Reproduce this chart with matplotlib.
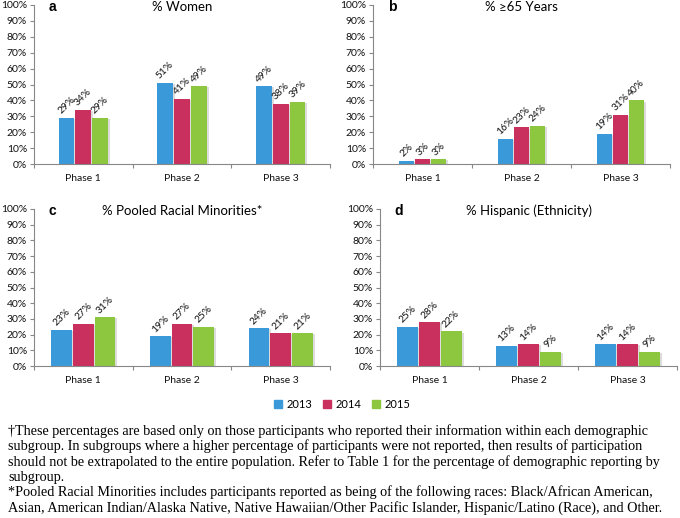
"""
Demographic participation by phase, 2013-2015 (four panels + footnote).
"""
import matplotlib
matplotlib.use("Agg")
import matplotlib.pyplot as plt
import matplotlib.patheffects as pe
import numpy as np
from matplotlib.patches import Patch
from matplotlib.ticker import PercentFormatter

plt.rcParams["font.family"] = ["Lato", "DejaVu Sans"]

phases = ["Phase 1", "Phase 2", "Phase 3"]
years = ["2013", "2014", "2015"]
colors = ["#3A9AD9", "#C9305E", "#8DC63F"]

women = [[29, 51, 49], [34, 41, 38], [29, 49, 39]]          # rows = years
age65 = [[2, 16, 19], [3, 23, 31], [3, 24, 40]]
minorities = [[23, 19, 24], [27, 27, 21], [31, 25, 21]]
hispanic = [[25, 13, 14], [28, 14, 14], [22, 9, 9]]

panels = [
    ("a", "% Women", women, [34, 5, 330, 164], 0.16),
    ("b", "% \u226565 Years", age65, [373, 5, 670, 164], 0.15),
    ("c", "% Pooled Racial Minorities*", minorities, [34, 209, 330, 366], 0.21),
    ("d", "% Hispanic (Ethnicity)", hispanic, [380, 209, 677, 366], 0.21),
]

footnote = [
    "\u2020These percentages are based only on those participants who reported their information within each demographic",
    "subgroup. In subgroups where a higher percentage of participants were not reported, then results of participation",
    "should not be extrapolated to the entire population. Refer to Table 1 for the percentage of demographic reporting by",
    "subgroup.",
    "*Pooled Racial Minorities includes participants reported as being of the following races: Black/African American,",
    "Asian, American Indian/Alaska Native, Native Hawaiian/Other Pacific Islander, Hispanic/Latino (Race), and Other.",
]

W, H = 680, 518
fig = plt.figure(figsize=(W / 100, H / 100), dpi=100)

shadow = [pe.SimplePatchShadow(offset=(1.5, -0.8), shadow_rgbFace="#bbbbbb", alpha=0.5), pe.Normal()]
x = np.arange(len(phases))

for letter, title, data, (x0, y0, x1, y1), width in panels:
    ax = fig.add_axes([x0 / W, 1 - y1 / H, (x1 - x0) / W, (y1 - y0) / H])
    for i, vals in enumerate(data):
        pos = x + (i - 1) * (width + 0.01)
        bars = ax.bar(pos, vals, width, color=colors[i], path_effects=shadow, zorder=2)
        for b, v in zip(bars, vals):
            ax.annotate(f"{v}%", (b.get_x() + b.get_width() / 2, v), xytext=(0, 1.5),
                        textcoords="offset points", ha="center", va="bottom",
                        rotation=45, fontsize=7.3, color="#111111")
    ax.set_xlim(-0.5, 2.5)
    ax.set_ylim(0, 100)
    ax.set_yticks(range(0, 101, 10))
    ax.yaxis.set_major_formatter(PercentFormatter(decimals=0))
    ax.set_xticks([-0.5, 0.5, 1.5, 2.5])
    ax.set_xticklabels([])
    ax.set_xticks(x, minor=True)
    ax.set_xticklabels(phases, minor=True)
    ax.tick_params(axis="x", which="minor", length=0, pad=7, labelsize=7.5, labelcolor="#111111")
    ax.tick_params(axis="x", which="major", length=3, color="#888888")
    ax.tick_params(axis="y", length=3, color="#888888", labelsize=7.5, labelcolor="#111111", pad=2)
    for s in ["top", "right"]:
        ax.spines[s].set_visible(False)
    for s in ["left", "bottom"]:
        ax.spines[s].set_color("#888888")
        ax.spines[s].set_linewidth(0.8)
    ax.text(0.05, 0.99, letter, transform=ax.transAxes, ha="left", va="center",
            fontsize=10, fontweight="bold", family=["Liberation Sans", "DejaVu Sans"])
    ax.text(0.5, 0.99, title, transform=ax.transAxes, ha="center", va="center", fontsize=9.5)

handles = [Patch(color=c, label=y) for c, y in zip(colors, years)]
fig.legend(handles=handles, loc="center", bbox_to_anchor=(342 / W, 1 - 404 / H), ncol=3,
           frameon=False, fontsize=8, handlelength=0.7, handleheight=0.7,
           handletextpad=0.4, columnspacing=1.0)

fig.text(8 / W, 1 - 424 / H, "\n".join(footnote), ha="left", va="top",
         fontsize=10.2, family=["Liberation Serif", "DejaVu Serif"], linespacing=1.17)

fig.savefig("out.png", dpi=100)
